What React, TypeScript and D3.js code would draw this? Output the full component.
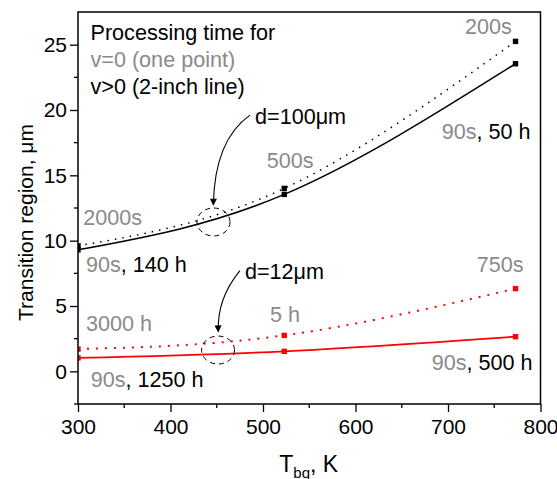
import React, { useEffect, useRef } from 'react';
import * as d3 from 'd3';

// temperatures (K) where markers sit
const temps = [300, 523, 773];

// d=100um
const thickPoint = [9.6, 14.0, 25.25];   // v=0, dotted
const thickLine = [9.3, 13.54, 23.54];   // v>0, solid
// d=12um
const thinPoint = [1.7, 2.75, 6.33];
const thinLine = [1.03, 1.53, 2.65];

const xTicks = [300, 400, 500, 600, 700, 800];
const yTicks = [0, 5, 10, 15, 20, 25];

const legendLines = [
  { text: 'Processing time for', gray: false },
  { text: 'v=0 (one point)', gray: true },
  { text: 'v>0 (2-inch line)', gray: false },
];

// annotation labels: [gray part, black part, T, value]
const labels: [string, string, number, number][] = [
  ['200s', '', 718.4, 25.81],
  ['', 'd=100\u03bcm', 491.4, 18.92],
  ['90s', ', 50 h', 693.2, 17.78],
  ['500s', '', 504, 15.56],
  ['2000s', '', 305.7, 11.2],
  ['90s', ', 140 h', 308.6, 7.6],
  ['750s', '', 731, 7.62],
  ['', 'd=12\u03bcm', 480.5, 7.06],
  ['5 h', '', 507.6, 3.8],
  ['3000 h', '', 308.6, 3.08],
  ['90s', ', 500 h', 682.4, 0.1],
  ['90s', ', 1250 h', 313.7, -1.18],
];

// dashed circles [T, value]
const circles = [[446.5, 11.43], [451.4, 1.63]];
// arrows: start, control, end in [T, value]
const arrows = [
  [[486, 19.61], [447.6, 17.71], [446.3, 12.73]],
  [[475.1, 7.7], [450.1, 5.55], [451.7, 3.03]],
];

const W = 557, H = 479;
const GRAY = '#8a8a8a';
const FONT = '"Liberation Sans", Arial, sans-serif';

export default function App() {
  const ref = useRef<SVGSVGElement>(null);

  useEffect(() => {
    const svg = d3.select(ref.current);
    svg.selectAll('*').remove();

    const left = 78, right = 540.5, top = 12, bottom = 404;
    const x = d3.scaleLinear().domain([300, 800]).range([left, right]);
    const y = d3.scaleLinear().domain([-2.5, 27.5]).range([bottom, top]);

    const defs = svg.append('defs');
    defs.append('clipPath').attr('id', 'plot')
      .append('rect').attr('x', left).attr('y', top)
      .attr('width', right - left).attr('height', bottom - top);
    defs.append('marker').attr('id', 'head')
      .attr('viewBox', '0 0 10 10').attr('refX', 9).attr('refY', 5)
      .attr('markerWidth', 9).attr('markerHeight', 7)
      .attr('markerUnits', 'userSpaceOnUse').attr('orient', 'auto')
      .append('path').attr('d', 'M0,0L10,5L0,10z').attr('fill', '#000');

    const plot = svg.append('g').attr('clip-path', 'url(#plot)');
    const line = d3.line<number>()
      .x((_, i) => x(temps[i]))
      .y(d => y(d))
      .curve(d3.curveNatural);

    const series = [
      { v: thickLine, color: '#000', dash: null, w: 1.5 },
      { v: thickPoint, color: '#000', dash: '1.5 6', w: 1.5 },
      { v: thinLine, color: '#ff0000', dash: null, w: 1.8 },
      { v: thinPoint, color: '#ff0000', dash: '2 7', w: 2 },
    ];
    series.forEach(s => {
      plot.append('path').attr('d', line(s.v))
        .attr('fill', 'none').attr('stroke', s.color)
        .attr('stroke-width', s.w)
        .attr('stroke-dasharray', s.dash);
      plot.selectAll(null).data(s.v).enter().append('rect')
        .attr('x', (_, i) => x(temps[i]) - 2.7)
        .attr('y', d => y(d) - 2.7)
        .attr('width', 5.4).attr('height', 5.4)
        .attr('fill', s.color);
    });

    // dashed circles
    circles.forEach(c => {
      svg.append('ellipse')
        .attr('cx', x(c[0])).attr('cy', y(c[1]))
        .attr('rx', 16.5).attr('ry', 14)
        .attr('fill', 'none').attr('stroke', '#000')
        .attr('stroke-width', 1).attr('stroke-dasharray', '5 4');
    });

    // arrows
    arrows.forEach(a => {
      const p = a.map(d => [x(d[0]), y(d[1])]);
      svg.append('path')
        .attr('d', `M${p[0][0]},${p[0][1]}Q${p[1][0]},${p[1][1]} ${p[2][0]},${p[2][1]}`)
        .attr('fill', 'none').attr('stroke', '#000').attr('stroke-width', 1.1)
        .attr('marker-end', 'url(#head)');
    });

    // labels
    labels.forEach(l => {
      const t = svg.append('text')
        .attr('x', x(l[2])).attr('y', y(l[3]))
        .attr('font-family', FONT).attr('font-size', 21.6);
      if (l[0]) t.append('tspan').attr('fill', GRAY).text(l[0]);
      if (l[1]) t.append('tspan').attr('fill', '#000').text(l[1]);
    });

    legendLines.forEach((l, i) => {
      svg.append('text')
        .attr('x', left + 12.5).attr('y', top + 27.5 + i * 27)
        .attr('font-family', FONT).attr('font-size', 21.6)
        .attr('fill', l.gray ? GRAY : '#000')
        .text(l.text);
    });

    // axes
    const xAxis = svg.append('g').attr('transform', `translate(0,${bottom})`)
      .call(d3.axisBottom(x).tickValues(xTicks).tickSize(8).tickSizeOuter(0).tickPadding(7));
    xAxis.append('g').selectAll('line')
      .data(d3.range(350, 800, 100)).enter().append('line')
      .attr('x1', d => x(d)).attr('x2', d => x(d))
      .attr('y1', 0).attr('y2', 4).attr('stroke', '#000').attr('stroke-width', 1.3);

    const yAxis = svg.append('g').attr('transform', `translate(${left},0)`)
      .call(d3.axisLeft(y).tickValues(yTicks).tickSize(8).tickSizeOuter(0).tickPadding(3));
    yAxis.append('g').selectAll('line')
      .data(d3.range(-2.5, 27.5, 5)).enter().append('line')
      .attr('y1', d => y(d)).attr('y2', d => y(d))
      .attr('x1', 0).attr('x2', -4).attr('stroke', '#000').attr('stroke-width', 1.3);

    [xAxis, yAxis].forEach(g => {
      g.selectAll('.domain').remove();
      g.selectAll('.tick line').attr('stroke-width', 1.3);
      g.selectAll('text').attr('font-family', FONT).attr('font-size', 21).attr('fill', '#000');
    });

    // frame
    svg.append('rect').attr('x', left).attr('y', top)
      .attr('width', right - left).attr('height', bottom - top)
      .attr('fill', 'none').attr('stroke', '#000').attr('stroke-width', 1.5);

    // axis titles
    const xt = svg.append('text').attr('x', (left + right) / 2 - 30).attr('y', 472)
      .attr('font-family', FONT).attr('font-size', 23);
    xt.append('tspan').text('T');
    xt.append('tspan').attr('font-size', 15).attr('dy', 6).text('bg');
    xt.append('tspan').attr('dy', -6).text(', K');

    svg.append('text')
      .attr('transform', `translate(33,222.5) rotate(-90)`)
      .attr('text-anchor', 'middle')
      .attr('font-family', FONT).attr('font-size', 21)
      .text('Transition region, \u03bcm');
  }, []);

  return (
    <svg ref={ref} width={W} height={H}
      style={{ position: 'absolute', left: 0, top: 0, background: '#fff' }} />
  );
}
